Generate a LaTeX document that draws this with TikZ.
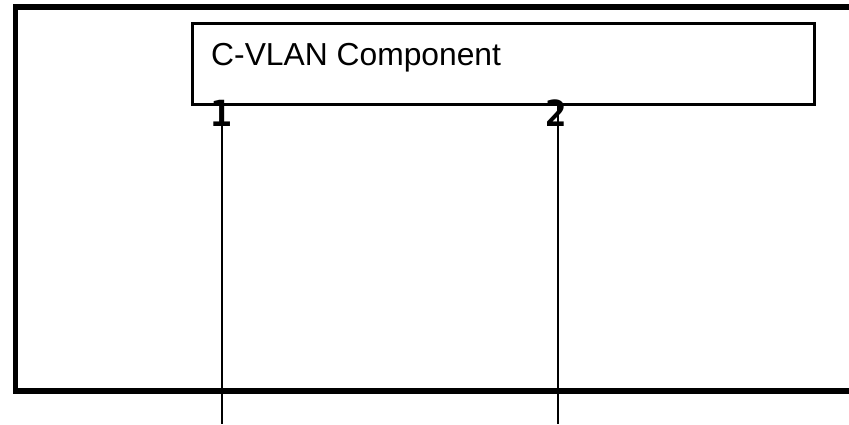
\documentclass[tikz,border=0pt]{standalone}
\usepackage{fontspec}
\setmainfont{Liberation Sans}
\newfontfamily\digitfont{DejaVu Sans Mono}
\begin{document}
\begin{tikzpicture}[x=1pt,y=-1pt,
  outerbox/.style={draw=black,line width=5.5pt},
  innerbox/.style={draw=black,line width=3.5pt,fill=white},
  portline/.style={draw=black,line width=1.5pt},
  portnum/.style={font=\digitfont\bfseries\fontsize{36}{36}\selectfont,inner sep=0pt}]
\useasboundingbox (0,0) rectangle (849,424);
\clip (0,0) rectangle (849,424);
\draw[outerbox] (15.5,7) rectangle (880,391);
\draw[innerbox] (192.5,23.5) rectangle (814.7,104.7);
\node[anchor=base west,inner sep=0pt,font=\fontsize{31.8}{32}\selectfont] (title) at (211,65) {C-VLAN Component};
\coordinate (p1top) at (222,104.7);
\coordinate (p2top) at (558,104.7);
\coordinate (p1bot) at (222,424);
\coordinate (p2bot) at (558,424);
\draw[portline] (p1top) -- (p1bot);
\draw[portline] (p2top) -- (p2bot);
\node[portnum] (n1) at (221,113) {1};
\node[portnum] (n2) at (556,113) {2};
\end{tikzpicture}
\end{document}
